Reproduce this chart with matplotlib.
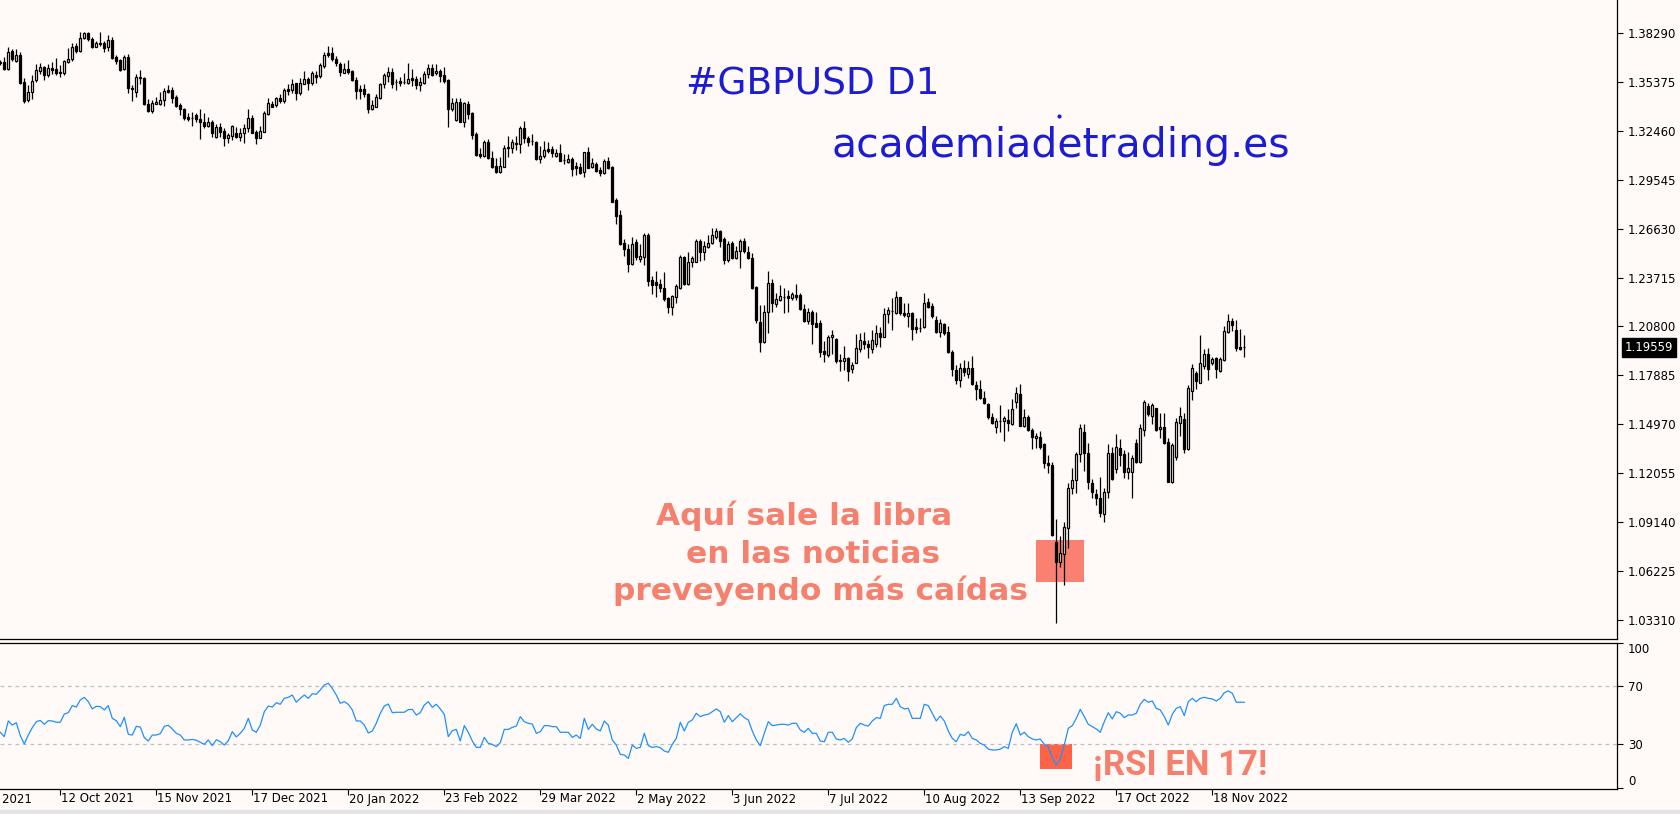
import numpy as np
import pandas as pd
import matplotlib
matplotlib.use("Agg")
import matplotlib.pyplot as plt
import matplotlib.transforms as mtransforms
from matplotlib.patches import Rectangle

# ---------------- data ----------------
start_date = "2021-09-21"

opens = [
1.3656,1.3654,1.3612,1.3722,1.3664,1.3698,1.3537,1.3430,1.3475,1.3549,
1.3602,1.3626,1.3579,1.3618,1.3612,1.3598,1.3589,1.3658,1.3672,1.3751,
1.3724,1.3801,1.3827,1.3793,1.3747,1.3767,1.3767,1.3743,1.3787,1.3684,
1.3668,1.3612,1.3684,1.3503,1.3475,1.3565,1.3559,1.3404,1.3366,1.3408,
1.3408,1.3430,1.3489,1.3489,1.3446,1.3400,1.3376,1.3328,1.3320,1.3340,
1.3316,1.3296,1.3275,1.3296,1.3207,1.3269,1.3245,1.3201,1.3215,1.3235,
1.3211,1.3231,1.3261,1.3324,1.3237,1.3205,1.3241,1.3346,1.3406,1.3400,
1.3440,1.3426,1.3495,1.3489,1.3529,1.3473,1.3527,1.3555,1.3529,1.3579,
1.3573,1.3634,1.3708,1.3708,1.3674,1.3644,1.3593,1.3612,1.3602,1.3549,
1.3495,1.3493,1.3465,1.3376,1.3390,1.3444,1.3523,1.3575,1.3595,1.3535,
1.3543,1.3535,1.3533,1.3559,1.3553,1.3519,1.3533,1.3583,1.3618,1.3589,
1.3602,1.3579,1.3549,1.3374,1.3310,1.3420,1.3300,1.3406,1.3354,1.3227,
1.3108,1.3096,1.3179,1.3082,1.3036,1.3002,1.3032,1.3141,1.3145,1.3165,
1.3167,1.3261,1.3205,1.3187,1.3177,1.3076,1.3096,1.3138,1.3136,1.3096,
1.3112,1.3070,1.3062,1.3076,1.3036,1.3028,1.2998,1.3118,1.3028,1.3048,
1.3012,1.2992,1.3068,1.3028,1.2834,1.2744,1.2575,1.2541,1.2452,1.2581,
1.2482,1.2496,1.2625,1.2357,1.2343,1.2333,1.2307,1.2247,1.2194,1.2253,
1.2311,1.2496,1.2331,1.2462,1.2466,1.2591,1.2525,1.2555,1.2575,1.2611,
1.2649,1.2601,1.2476,1.2579,1.2490,1.2529,1.2591,1.2521,1.2486,1.2317,
1.2108,1.1989,1.2164,1.2337,1.2212,1.2237,1.2257,1.2261,1.2247,1.2267,
1.2267,1.2184,1.2112,1.2166,1.2098,1.2098,1.1933,1.1910,1.2019,1.2003,
1.1880,1.1876,1.1890,1.1826,1.1864,1.1947,1.1995,1.1975,1.1943,1.1975,
1.2039,1.2019,1.2152,1.2174,1.2162,1.2253,1.2162,1.2142,1.2162,1.2075,
1.2073,1.2079,1.2224,1.2202,1.2118,1.2049,1.2094,1.2049,1.1925,1.1820,
1.1761,1.1834,1.1796,1.1834,1.1731,1.1705,1.1655,1.1618,1.1538,1.1482,
1.1516,1.1516,1.1522,1.1498,1.1632,1.1677,1.1488,1.1538,1.1462,1.1413,
1.1423,1.1379,1.1264,1.1254,1.0793,1.0678,1.0723,1.0876,1.1115,1.1165,
1.1319,1.1449,1.1323,1.1145,1.1081,1.1055,1.0960,1.1091,1.1323,1.1228,
1.1353,1.1319,1.1210,1.1214,1.1383,1.1274,1.1462,1.1606,1.1548,1.1592,
1.1466,1.1478,1.1389,1.1155,1.1304,1.1506,1.1526,1.1349,1.1697,1.1804,
1.1745,1.1846,1.1914,1.1860,1.1890,1.1816,1.1880,1.2049,1.2112,1.2059,
1.1955,1.1955]

highs = [
1.3668,1.3688,1.3747,1.3732,1.3732,1.3718,1.3559,1.3519,1.3579,1.3642,
1.3648,1.3632,1.3642,1.3658,1.3678,1.3638,1.3668,1.3738,1.3771,1.3767,
1.3833,1.3837,1.3833,1.3803,1.3783,1.3833,1.3783,1.3817,1.3803,1.3698,
1.3674,1.3698,1.3704,1.3519,1.3585,1.3608,1.3565,1.3434,1.3430,1.3450,
1.3475,1.3499,1.3517,1.3509,1.3460,1.3410,1.3380,1.3354,1.3360,1.3354,
1.3376,1.3350,1.3330,1.3310,1.3287,1.3291,1.3261,1.3231,1.3281,1.3267,
1.3261,1.3287,1.3374,1.3340,1.3251,1.3275,1.3366,1.3440,1.3426,1.3450,
1.3465,1.3499,1.3523,1.3553,1.3533,1.3559,1.3602,1.3565,1.3602,1.3604,
1.3648,1.3718,1.3751,1.3743,1.3692,1.3658,1.3648,1.3668,1.3608,1.3565,
1.3519,1.3523,1.3473,1.3430,1.3465,1.3533,1.3589,1.3628,1.3618,1.3555,
1.3569,1.3589,1.3652,1.3612,1.3573,1.3569,1.3604,1.3644,1.3644,1.3644,
1.3612,1.3628,1.3555,1.3440,1.3440,1.3440,1.3420,1.3426,1.3360,1.3241,
1.3141,1.3191,1.3197,1.3125,1.3082,1.3092,1.3161,1.3215,1.3197,1.3215,
1.3275,1.3304,1.3215,1.3225,1.3187,1.3155,1.3187,1.3181,1.3155,1.3136,
1.3167,1.3106,1.3106,1.3088,1.3062,1.3056,1.3122,1.3148,1.3082,1.3062,
1.3032,1.3076,1.3088,1.3036,1.2844,1.2774,1.2601,1.2571,1.2615,1.2599,
1.2571,1.2635,1.2635,1.2381,1.2410,1.2363,1.2402,1.2257,1.2267,1.2333,
1.2506,1.2500,1.2522,1.2500,1.2599,1.2601,1.2591,1.2625,1.2665,1.2665,
1.2655,1.2611,1.2591,1.2591,1.2559,1.2601,1.2605,1.2559,1.2516,1.2323,
1.2208,1.2208,1.2410,1.2361,1.2277,1.2327,1.2311,1.2297,1.2287,1.2333,
1.2277,1.2214,1.2188,1.2178,1.2168,1.2118,1.1993,1.2029,1.2059,1.2009,
1.1915,1.1965,1.1900,1.1870,1.2035,1.2039,1.2049,1.1999,1.2059,1.2088,
1.2078,1.2188,1.2198,1.2248,1.2293,1.2257,1.2218,1.2218,1.2168,1.2128,
1.2128,1.2277,1.2248,1.2218,1.2144,1.2122,1.2102,1.2082,1.1939,1.1850,
1.1864,1.1880,1.1874,1.1904,1.1757,1.1761,1.1695,1.1622,1.1562,1.1532,
1.1612,1.1548,1.1586,1.1645,1.1717,1.1735,1.1586,1.1552,1.1472,1.1447,
1.1457,1.1387,1.1314,1.1270,1.0930,1.0830,1.0916,1.1145,1.1234,1.1333,
1.1498,1.1498,1.1387,1.1169,1.1109,1.1180,1.1115,1.1379,1.1359,1.1439,
1.1407,1.1343,1.1333,1.1314,1.1407,1.1498,1.1641,1.1622,1.1622,1.1596,
1.1562,1.1562,1.1417,1.1383,1.1536,1.1598,1.1566,1.1731,1.1854,1.1816,
1.2029,1.1945,1.1953,1.1900,1.1900,1.1896,1.2082,1.2152,1.2128,1.2118,
1.2063,1.2029]

lows = [
1.3638,1.3608,1.3608,1.3664,1.3658,1.3523,1.3410,1.3416,1.3434,1.3535,
1.3585,1.3547,1.3569,1.3583,1.3579,1.3569,1.3579,1.3648,1.3664,1.3708,
1.3718,1.3791,1.3783,1.3738,1.3743,1.3753,1.3714,1.3724,1.3672,1.3642,
1.3604,1.3608,1.3469,1.3426,1.3450,1.3525,1.3400,1.3360,1.3354,1.3404,
1.3400,1.3394,1.3469,1.3410,1.3386,1.3340,1.3310,1.3306,1.3275,1.3300,
1.3195,1.3261,1.3267,1.3207,1.3201,1.3207,1.3157,1.3171,1.3191,1.3205,
1.3187,1.3171,1.3241,1.3231,1.3167,1.3201,1.3237,1.3340,1.3386,1.3386,
1.3414,1.3410,1.3460,1.3469,1.3430,1.3460,1.3523,1.3489,1.3519,1.3529,
1.3563,1.3622,1.3688,1.3664,1.3634,1.3575,1.3589,1.3585,1.3545,1.3436,
1.3436,1.3450,1.3354,1.3370,1.3386,1.3434,1.3503,1.3539,1.3503,1.3489,
1.3513,1.3525,1.3523,1.3515,1.3493,1.3485,1.3525,1.3559,1.3573,1.3579,
1.3539,1.3533,1.3271,1.3366,1.3306,1.3300,1.3271,1.3316,1.3197,1.3096,
1.3082,1.3088,1.3076,1.3026,1.2997,1.2997,1.3032,1.3088,1.3116,1.3131,
1.3116,1.3175,1.3155,1.3161,1.3072,1.3052,1.3082,1.3112,1.3088,1.3092,
1.3066,1.3046,1.3052,1.2979,1.2983,1.2989,1.2973,1.3022,1.3022,1.2998,
1.2979,1.2988,1.3018,1.2824,1.2690,1.2565,1.2502,1.2406,1.2446,1.2476,
1.2466,1.2446,1.2323,1.2273,1.2257,1.2287,1.2233,1.2162,1.2148,1.2218,
1.2303,1.2327,1.2327,1.2436,1.2462,1.2472,1.2476,1.2549,1.2569,1.2601,
1.2551,1.2452,1.2466,1.2482,1.2480,1.2430,1.2516,1.2480,1.2301,1.2102,
1.1929,1.1983,1.2039,1.2168,1.2198,1.2233,1.2158,1.2168,1.2237,1.2237,
1.2178,1.2104,1.2092,1.1973,1.2075,1.1895,1.1870,1.1900,1.1915,1.1864,
1.1816,1.1820,1.1757,1.1800,1.1860,1.1929,1.1943,1.1890,1.1920,1.1959,
1.1959,1.2015,1.2098,1.2059,1.2154,1.2148,1.2138,1.2078,1.2000,1.2039,
1.2049,1.2069,1.2192,1.2128,1.2043,1.2015,1.2029,1.1923,1.1784,1.1737,
1.1717,1.1784,1.1771,1.1731,1.1641,1.1645,1.1616,1.1526,1.1496,1.1443,
1.1453,1.1399,1.1457,1.1494,1.1596,1.1488,1.1478,1.1458,1.1347,1.1353,
1.1349,1.1234,1.1208,1.0831,1.0310,1.0643,1.0539,1.0757,1.1081,1.1085,
1.1274,1.1218,1.1109,1.1055,1.1015,1.0946,1.0916,1.1055,1.1165,1.1208,
1.1248,1.1174,1.1169,1.1055,1.1264,1.1268,1.1427,1.1546,1.1498,1.1456,
1.1413,1.1379,1.1151,1.1145,1.1284,1.1427,1.1327,1.1343,1.1641,1.1705,
1.1741,1.1824,1.1761,1.1850,1.1775,1.1810,1.1874,1.2039,1.2055,1.1933,
1.1939,1.1900]

closes = [
1.3648,1.3612,1.3718,1.3672,1.3698,1.3533,1.3426,1.3479,1.3543,1.3608,
1.3624,1.3581,1.3618,1.3608,1.3593,1.3589,1.3664,1.3674,1.3743,1.3724,
1.3797,1.3827,1.3791,1.3747,1.3767,1.3765,1.3741,1.3787,1.3678,1.3664,
1.3608,1.3684,1.3499,1.3493,1.3565,1.3559,1.3404,1.3366,1.3410,1.3418,
1.3430,1.3483,1.3479,1.3440,1.3394,1.3374,1.3324,1.3316,1.3322,1.3314,
1.3296,1.3277,1.3296,1.3231,1.3271,1.3241,1.3201,1.3221,1.3275,1.3211,
1.3231,1.3261,1.3320,1.3235,1.3205,1.3245,1.3350,1.3410,1.3390,1.3440,
1.3426,1.3489,1.3483,1.3523,1.3473,1.3529,1.3553,1.3529,1.3593,1.3569,
1.3638,1.3698,1.3698,1.3672,1.3648,1.3595,1.3612,1.3595,1.3549,1.3485,
1.3485,1.3463,1.3376,1.3398,1.3446,1.3525,1.3579,1.3595,1.3523,1.3537,
1.3533,1.3537,1.3553,1.3549,1.3519,1.3535,1.3585,1.3618,1.3579,1.3604,
1.3575,1.3545,1.3374,1.3410,1.3420,1.3300,1.3410,1.3346,1.3221,1.3102,
1.3098,1.3181,1.3082,1.3032,1.3002,1.3036,1.3141,1.3151,1.3177,1.3171,
1.3261,1.3201,1.3181,1.3185,1.3076,1.3096,1.3132,1.3128,1.3112,1.3112,
1.3068,1.3072,1.3076,1.3016,1.3026,1.2996,1.3118,1.3026,1.3056,1.3008,
1.2996,1.3068,1.3026,1.2824,1.2740,1.2571,1.2541,1.2450,1.2569,1.2492,
1.2500,1.2625,1.2353,1.2327,1.2327,1.2307,1.2243,1.2194,1.2261,1.2323,
1.2496,1.2333,1.2462,1.2486,1.2591,1.2525,1.2559,1.2575,1.2625,1.2649,
1.2591,1.2476,1.2569,1.2486,1.2529,1.2589,1.2529,1.2486,1.2307,1.2118,
1.1989,1.2164,1.2337,1.2218,1.2241,1.2261,1.2257,1.2247,1.2273,1.2257,
1.2182,1.2114,1.2164,1.2092,1.2079,1.1929,1.1913,1.2015,1.2029,1.1874,
1.1874,1.1890,1.1816,1.1850,1.1949,1.1999,1.1975,1.1959,1.1999,1.2039,
1.2019,1.2152,1.2178,1.2174,1.2253,1.2162,1.2146,1.2158,1.2063,1.2067,
1.2073,1.2218,1.2198,1.2142,1.2049,1.2098,1.2043,1.1925,1.1824,1.1761,
1.1830,1.1810,1.1834,1.1735,1.1705,1.1651,1.1622,1.1542,1.1506,1.1518,
1.1516,1.1532,1.1502,1.1586,1.1681,1.1488,1.1538,1.1462,1.1419,1.1429,
1.1363,1.1264,1.1254,1.0837,1.0678,1.0727,1.0886,1.1115,1.1165,1.1319,
1.1472,1.1327,1.1155,1.1095,1.1055,1.0966,1.1095,1.1323,1.1170,1.1359,
1.1314,1.1214,1.1234,1.1294,1.1274,1.1472,1.1627,1.1558,1.1612,1.1462,
1.1478,1.1383,1.1155,1.1373,1.1512,1.1546,1.1349,1.1715,1.1830,1.1757,
1.1864,1.1914,1.1824,1.1886,1.1824,1.1884,1.2053,1.2112,1.2088,1.1953,
1.1945,1.1956]

rsi_values = [
38.3,35.3,46.1,43.3,44.9,36.0,30.2,36.4,41.5,45.6,
46.5,43.8,46.3,46.1,45.2,45.2,50.9,51.8,56.7,55.7,
60.6,62.4,59.4,54.4,56.2,56.0,53.7,56.7,47.9,46.3,
42.2,48.6,36.9,36.4,42.4,41.9,34.6,32.3,36.4,36.4,
37.4,42.4,43.1,40.6,37.6,36.4,33.0,33.0,33.4,32.8,
31.4,30.0,33.0,29.1,33.2,31.8,29.5,32.5,38.7,35.1,
37.6,41.0,47.9,39.9,38.3,43.3,52.5,56.4,55.7,58.7,
57.6,61.7,62.4,64.0,59.0,61.7,64.0,61.7,64.9,64.5,
67.5,70.9,72.1,68.6,64.0,58.3,59.4,57.6,53.7,46.1,
46.1,43.3,37.8,39.2,44.5,51.4,56.4,57.8,51.8,52.1,
52.1,52.1,53.9,54.1,50.2,51.8,57.1,59.4,55.5,57.6,
54.4,50.7,35.3,39.4,40.3,32.3,42.9,38.3,32.3,27.9,
27.9,34.8,30.7,30.0,28.4,31.1,40.3,40.3,41.7,42.6,
49.1,45.6,44.5,44.0,37.6,38.7,42.9,42.9,42.2,42.2,
38.3,38.3,38.3,34.8,36.4,34.1,47.9,40.3,43.8,40.6,
39.2,46.1,43.3,33.0,29.5,23.1,22.6,20.3,29.5,27.2,
27.9,37.6,29.1,27.9,28.4,27.7,25.4,24.5,30.0,34.1,
45.2,39.2,45.2,46.8,51.4,49.1,50.2,50.7,52.5,54.4,
52.5,45.2,49.8,45.6,48.4,51.1,48.4,46.8,39.2,33.0,
29.1,37.6,45.6,42.9,43.3,43.8,43.8,43.3,44.5,44.5,
39.9,38.3,41.0,37.6,37.6,32.3,31.8,38.3,38.3,33.7,
33.0,34.1,31.4,33.7,41.5,44.5,43.3,42.6,46.1,48.4,
47.9,56.7,57.6,57.6,61.7,56.0,54.4,54.8,47.9,47.9,
47.9,57.6,56.7,51.4,46.1,49.5,46.1,39.2,34.1,31.8,
36.9,36.0,38.7,34.1,33.0,30.7,29.5,26.7,26.1,26.1,
26.7,28.4,27.2,38.3,44.2,36.4,38.3,35.3,33.7,33.0,
33.7,30.0,28.4,20.8,15.7,19.9,29.5,41.0,42.9,47.9,
54.1,49.1,43.8,42.2,40.6,38.3,45.6,51.8,47.5,52.5,
51.4,48.4,50.2,50.2,51.4,57.6,61.0,59.0,59.9,54.8,
53.7,49.1,43.3,50.7,54.8,56.0,49.8,59.4,61.7,59.4,
61.7,62.4,61.7,61.3,59.9,61.7,65.6,66.8,65.2,59.0,
59.0,59.0]

price_ticks = [1.03310, 1.06225, 1.09140, 1.12055, 1.14970, 1.17885, 1.20800,
               1.23715, 1.26630, 1.29545, 1.32460, 1.35375, 1.38290]
rsi_ticks = [0, 30, 70, 100]
rsi_levels = [30, 70]
date_labels = ["8 Sep 2021", "12 Oct 2021", "15 Nov 2021", "17 Dec 2021", "20 Jan 2022",
               "23 Feb 2022", "29 Mar 2022", "2 May 2022", "3 Jun 2022", "7 Jul 2022",
               "10 Aug 2022", "13 Sep 2022", "17 Oct 2022", "18 Nov 2022"]
last_price = 1.19559

# ---------------- figure ----------------
W, H = 1681, 814
BG = "#fffaf8"
SALMON = "#f6806e"
BLUE = "#1c1cd2"

fig = plt.figure(figsize=(W / 100, H / 100), dpi=100)
fig.patch.set_facecolor(BG)


def px_rect(l, t, r, b):
    return [l / W, 1 - b / H, (r - l) / W, (b - t) / H]


ax = fig.add_axes(px_rect(0, 0, 1617, 639))
axr = fig.add_axes(px_rect(0, 642.5, 1617, 789), sharex=ax)
for a in (ax, axr):
    a.set_facecolor(BG)
    a.spines["left"].set_visible(False)
    for s in ("right", "bottom", "top"):
        a.spines[s].set_linewidth(0.9)
        a.spines[s].set_color("black")
ax.spines["top"].set_visible(False)

n = len(closes)
x = np.arange(n)
o = np.array(opens); c = np.array(closes); h = np.array(highs); l = np.array(lows)
up = c >= o

ax.set_xlim(-0.075, 404.18)
ax.set_ylim(1.02166, 1.40257)

# candles
ax.vlines(x, l, h, color="black", linewidth=0.9, zorder=3)
ax.bar(x, np.abs(c - o), bottom=np.minimum(o, c), width=0.52,
       color=np.where(up, BG, "black"), edgecolor="black", linewidth=0.9, zorder=4)

# price axis
ax.yaxis.tick_right()
ax.set_yticks(price_ticks)
ax.set_yticklabels([f"{v:.5f}" for v in price_ticks])
ax.tick_params(axis="y", direction="out", length=4, width=0.8, labelsize=8.5, pad=4, colors="black")
ax.tick_params(axis="x", bottom=False, labelbottom=False)

# current price tag
trans = mtransforms.blended_transform_factory(ax.transAxes, ax.transData)
ax.text(1.0 + 8 / 1617, last_price, f"{last_price:.5f}", transform=trans, ha="left", va="center",
        color="white", fontsize=8.5, zorder=10, clip_on=False,
        bbox=dict(boxstyle="square,pad=0.25", fc="black", ec="black"))

# annotations on price panel
ax.add_patch(Rectangle((259.0, 1.05564), 12.0, 1.08068 - 1.05564, color="#fa8072", zorder=2, lw=0))
ax.text(171.5, 1.3465, "#GBPUSD D1", color=BLUE, fontsize=27, ha="left", va="baseline",
        family="DejaVu Sans", zorder=6)
ax.text(207.75, 1.3090, "academiadetrading.es", color=BLUE, fontsize=29.5, ha="left", va="baseline",
        family="DejaVu Sans", zorder=6)
ax.plot([264.7], [1.3334], marker="o", markersize=2, color=BLUE, zorder=6)
for txt, xc, yb in [("Aquí sale la libra", 201.0, 1.0896),
                    ("en las noticias", 203.25, 1.0670),
                    ("preveyendo más caídas", 205.0, 1.0449)]:
    ax.text(xc, yb, txt, color=SALMON, fontsize=22.5, fontweight="bold", ha="center",
            va="baseline", family="DejaVu Sans", zorder=6)

# RSI panel
axr.set_ylim(-0.8, 100.2)
axr.add_patch(Rectangle((260.0, 13.0), 8.0, 17.2, color="#ff6347", zorder=1, lw=0))
for lev in rsi_levels:
    axr.axhline(lev, color="#c0c0c0", linewidth=0.9, linestyle=(0, (3, 3)), zorder=1)
axr.plot(x, rsi_values, color="#1e90ff", linewidth=0.9, zorder=3)
axr.yaxis.tick_right()
axr.set_yticks(rsi_ticks)
axr.set_yticklabels([str(v) for v in rsi_ticks])
axr.tick_params(axis="y", direction="out", length=4, width=0.8, labelsize=8.5, pad=4, colors="black")
for lab, v in zip(axr.get_yticklabels(), rsi_ticks):
    if v == 100:
        lab.set_va("top")
    elif v == 0:
        lab.set_va("bottom")
axr.text(273.3, 8.8, "¡RSI EN 17!", color=SALMON, fontsize=25, fontweight="bold",
         family=["Roboto", "DejaVu Sans"], ha="left", va="baseline", zorder=6)

# date axis
start = np.datetime64(start_date)
positions = [int(np.busday_count(start, np.datetime64(pd.to_datetime(d, format="%d %b %Y").date())))
             for d in date_labels]
in_range = [p for p in positions if p >= 0]
axr.set_xticks(in_range)
axr.set_xticklabels([""] * len(in_range))
axr.tick_params(axis="x", direction="out", length=4, width=0.8)
for p, d in zip(positions, date_labels):
    axr.annotate(d, xy=(p, 0), xycoords=("data", "axes fraction"), xytext=(1, -10),
                 textcoords="offset pixels", ha="left", va="center", fontsize=8.5,
                 annotation_clip=False, color="black")

# bottom grey strip
fig.patches.append(Rectangle((0, 0), 1, 4 / H, transform=fig.transFigure, color="#e4e4e4", zorder=0))

fig.savefig("out.png", dpi=100, facecolor=BG)
